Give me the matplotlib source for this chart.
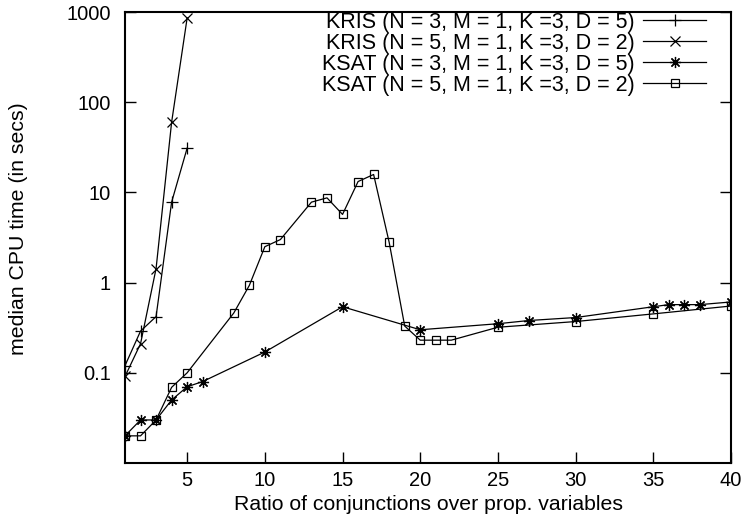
import matplotlib
matplotlib.use("Agg")
import matplotlib.pyplot as plt

plt.rcParams['font.family'] = ['Liberation Sans', 'DejaVu Sans']

# KRIS (N = 3, M = 1, K =3, D = 5)
kris3_x = [1, 2, 3, 4, 5]
kris3_y = [0.12, 0.29, 0.42, 7.8, 31]
# KRIS (N = 5, M = 1, K =3, D = 2)
kris5_x = [1, 2, 3, 4, 5]
kris5_y = [0.091, 0.21, 1.43, 60, 860]
# KSAT (N = 3, M = 1, K =3, D = 5)
ksat3_x = [1, 2, 3, 4, 5, 6, 10, 15, 20, 25, 27, 30, 35, 36, 37, 38, 40]
ksat3_y = [0.02, 0.03, 0.03, 0.05, 0.07, 0.08, 0.17, 0.54, 0.30, 0.35, 0.38,
           0.41, 0.54, 0.57, 0.57, 0.57, 0.61]
# KSAT (N = 5, M = 1, K =3, D = 2)
ksat5_x = [1, 2, 3, 4, 5, 8, 9, 10, 11, 13, 14, 15, 16, 17, 18, 19, 20, 21, 22,
           25, 30, 35, 40]
ksat5_y = [0.02, 0.02, 0.03, 0.069, 0.10, 0.46, 0.93, 2.5, 3.0, 7.8, 8.7, 5.7,
           13.2, 15.8, 2.8, 0.33, 0.23, 0.23, 0.23, 0.32, 0.37, 0.45, 0.55]

labels = ['KRIS (N = 3, M = 1, K =3, D = 5)',
          'KRIS (N = 5, M = 1, K =3, D = 2)',
          'KSAT (N = 3, M = 1, K =3, D = 5)',
          'KSAT (N = 5, M = 1, K =3, D = 2)']

xticks = [5, 10, 15, 20, 25, 30, 35, 40]
yticks = [0.1, 1, 10, 100, 1000]
yticklabels = ['0.1', '1', '10', '100', '1000']

fig = plt.figure(figsize=(7.43, 5.22), dpi=100)
ax = fig.add_axes([125 / 743, 1 - 463 / 522, 606 / 743, 451 / 522])

lw = 0.9
ax.plot(kris3_x, kris3_y, color='k', lw=lw, marker='+', ms=8, mew=0.9, label=labels[0])
ax.plot(kris5_x, kris5_y, color='k', lw=lw, marker='x', ms=6.5, mew=0.9, label=labels[1])
ax.plot(ksat3_x, ksat3_y, color='k', lw=lw, marker=(8, 2, 0), ms=8, mew=0.9, label=labels[2])
ax.plot(ksat5_x, ksat5_y, color='k', lw=lw, marker='s', ms=6.3, mew=0.9,
        mfc='none', label=labels[3])

ax.set_yscale('log')
ax.set_xlim(1, 40)
ax.set_ylim(0.01, 1000)
ax.set_xticks(xticks)
ax.set_yticks(yticks)
ax.set_yticklabels(yticklabels)
ax.minorticks_off()
ax.tick_params(direction='in', length=8, width=1, labelsize=14.5, top=False, right=True)
ax.tick_params(axis='x', pad=6)
ax.tick_params(axis='y', pad=10)
for s in ax.spines.values():
    s.set_linewidth(1.5)

ax.set_xlabel('Ratio of conjunctions over prop. variables', fontsize=15.3)
ax.set_ylabel('median CPU time (in secs)', fontsize=15.3)
ax.xaxis.set_label_coords(0.5, -0.072)
ax.yaxis.set_label_coords(-0.160, 0.52)

ax.legend(loc='upper right', bbox_to_anchor=(0.959, 1.0), frameon=False, markerfirst=False,
          fontsize=15.5, handlelength=2.93, handletextpad=0.37, labelspacing=0.0,
          borderaxespad=0.0, borderpad=0.0)

fig.savefig('out.png', dpi=100)
